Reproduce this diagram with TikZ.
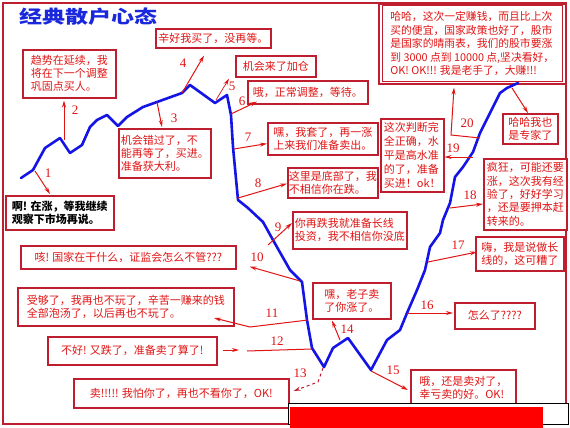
\documentclass[tikz,border=0pt]{standalone}
\usepackage{fontspec}
\newfontfamily\cjk{Noto Sans CJK SC}
\newfontfamily\numfont{Liberation Serif}
\usetikzlibrary{arrows.meta,calc}
\definecolor{boxred}{RGB}{190,30,45}
\definecolor{textred}{RGB}{225,20,20}
\definecolor{curveblue}{RGB}{20,20,230}
\definecolor{titleblue}{RGB}{25,40,220}
\tikzset{
  bx/.style={draw=boxred,line width=1.6pt,fill=white,text=textred,anchor=north west,
    inner sep=0pt,align=left,font=\cjk\fontsize{11}{13}\selectfont},
  curve/.style={draw=curveblue,line width=2.6pt,line join=round,line cap=round},
  conn/.style={draw=textred,line width=1pt,-{Stealth[length=7pt,width=4pt]}},
  num/.style={text=textred,font=\numfont\fontsize{13}{13}\selectfont,inner sep=0pt}
}
\begin{document}
\begin{tikzpicture}[x=1pt,y=-1pt]
\useasboundingbox (0,0) rectangle (570,428);
\fill[white] (0,0) rectangle (570,428);
\draw[boxred,line width=2.6pt] (3,3) rectangle (566,424);
% title
\node[text=titleblue,font=\cjk\bfseries\fontsize{23}{23}\selectfont,yscale=0.78,inner sep=0pt] (title) at (88,17) {经典散户心态};
% boxes
\node[bx,minimum width=115pt,minimum height=19pt] (b4) at (155,28) {辛好我买了，没再等。};
\node[bx,minimum width=93pt,minimum height=48pt] (b2) at (22,49) {趋势在延续，我\\将在下一个调整\\巩固点买人。};
\node[bx,minimum width=80pt,minimum height=21pt] (b5) at (235,55) {机会来了加仓};
\node[bx,minimum width=120pt,minimum height=23pt] (b6) at (247,80) {哦，正常调整，等待。};
\node[bx,minimum width=187pt,minimum height=80pt,font=\cjk\fontsize{10.8}{13.6}\selectfont] (bbig) at (378,3) {哈哈，这次一定赚钱，而且比上次\\买的便宜，国家政策也好了，股市\\是国家的晴雨表，我们的股市要涨\\到 3000 点到 10000 点,坚决看好，\\OK! OK!!! 我是老手了，大赚!!!};
\draw[boxred,line width=1pt] ($(bbig.north west)+(4,3)$) rectangle ($(bbig.south east)+(-4,-3)$);
\node[bx,minimum width=55pt,minimum height=30pt] (bexp) at (502,113) {哈哈我也\\是专家了};
\node[bx,minimum width=92pt,minimum height=49pt] (b3) at (118,128) {机会错过了，不\\能再等了，买进。\\准备获大利。};
\node[bx,minimum width=110pt,minimum height=32pt] (b7) at (267,122) {嘿，我套了，再一涨\\上来我们准备卖出。};
\node[bx,minimum width=63pt,minimum height=73pt,font=\cjk\fontsize{11}{13.8}\selectfont] (b19) at (380,118) {这次判断完\\全正确，水\\平是高水准\\的了，准备\\买进！ok！};
\node[bx,minimum width=90pt,minimum height=30pt] (b8) at (287,167) {这里是底部了，我\\不相信你在跌。};
\node[bx,minimum width=83pt,minimum height=71pt,font=\cjk\fontsize{11}{13.4}\selectfont] (b18) at (483,158) {疯狂，可能还要\\涨，这次我有经\\验了，好好学习\\，还是要押本赶\\转来的。};
\node[bx,minimum width=114pt,minimum height=37pt] (b9) at (292,211) {你再跌我就准备长线\\投资，我不相信你没底};
\node[bx,minimum width=108pt,minimum height=34pt,text=black,font=\cjk\bfseries\fontsize{11}{13}\selectfont] (b1) at (5,195) {啊! 在涨，等我继续\\观察下市场再说。};
\node[bx,minimum width=215pt,minimum height=23pt] (b10) at (20,245) {咳! 国家在干什么，证监会怎么不管???};
\node[bx,minimum width=88pt,minimum height=34pt] (b17) at (475,236) {嗨，我是说做长\\线的，这可糟了};
\node[bx,minimum width=216pt,minimum height=38pt] (b11) at (17,287) {受够了，我再也不玩了，辛苦一赚来的钱\\全部泡汤了，以后再也不玩了。};
\node[bx,minimum width=78pt,minimum height=36pt] (b14) at (312,282) {嘿，老子卖\\了你涨了。};
\node[bx,minimum width=80pt,minimum height=26pt] (b16) at (454,302) {怎么了????};
\node[bx,minimum width=169pt,minimum height=28pt] (b12) at (47,336) {不好! 又跌了，准备卖了算了!};
\node[bx,minimum width=215pt,minimum height=29pt] (b13) at (73,378) {卖!!!!! 我怕你了，再也不看你了，OK!};
\node[bx,minimum width=105pt,minimum height=36pt] (b15) at (410,369) {哦，还是卖对了，\\幸亏卖的好。OK!};
% bottom bar
\draw[black,line width=0.8pt,fill=white] (288,403) rectangle (568,424);
\fill[red] (290,407) rectangle (543,428);
% price curve
\draw[curve] (21,178) -- (33,170) -- (45,148) -- (60,138) -- (70,153) -- (82,145) -- (90,127)
  -- (97,120) -- (107,115) -- (118,126) -- (127,117) -- (143,107) -- (157,102) -- (182,93)
  -- (190,85) -- (215,103) -- (227,95) -- (231,115) -- (233,147) -- (238,200) -- (248,208)
  -- (263,222) -- (273,240) -- (290,270) -- (302,282) -- (307,320) -- (312,348) -- (324,367)
  -- (333,348) -- (348,338) -- (371,370) -- (387,340) -- (400,330) -- (407,313) -- (417,290)
  -- (425,270) -- (430,247) -- (440,233) -- (443,220) -- (450,203) -- (455,177) -- (463,167)
  -- (473,152) -- (480,133) -- (500,93) -- (507,88) -- (518,83);
% connector start points on the curve
\coordinate (p1) at (35,171);
\coordinate (p2) at (64,140);
\coordinate (p3) at (157,102);
\coordinate (p4) at (182,93);
\coordinate (p5) at (216,100);
\coordinate (p6) at (231,114);
\coordinate (p7) at (234,149);
\coordinate (p8) at (238,198);
\coordinate (p9) at (268,245);
\coordinate (p10) at (300,281);
\coordinate (p11) at (308,320);
\coordinate (p12) at (312,349);
\coordinate (p13) at (323,368);
\coordinate (p14) at (340,340);
\coordinate (p15) at (371,371);
\coordinate (p16) at (407,313);
\coordinate (p17) at (428,262);
\coordinate (p18) at (450,208);
\coordinate (p19) at (473,157);
\coordinate (p20) at (480,138);
\coordinate (p21) at (512,88);
% connector bends / free ends
\coordinate (k11) at (250,327);
\coordinate (e11) at (214,318);
\coordinate (e12) at (247,351);
\coordinate (s12) at (223,350);
\coordinate (t12) at (239,350);
\coordinate (k13) at (318,382);
\coordinate (k20) at (451,135);
% connectors
\draw[conn] (p1) -- ($(b1.north west)+(45,-1)$);
\draw[conn] (p2) -- ($(b2.south west)+(42,2)$);
\draw[conn] (p3) -- ($(b3.north west)+(44,-1)$);
\draw[conn] (p4) -- ($(b4.south west)+(49,7)$);
\draw[conn,line width=0.7pt] (p5) -- ($(b5.south west)+(-6,1)$);
\draw[conn] (p6) -- ($(b6.south west)+(10,-3)$);
\draw[conn] (p7) -- ($(b7.south west)+(0,-12)$);
\draw[conn] (p8) -- ($(b8.south west)+(0,-15)$);
\draw[conn] (p9) -- ($(b9.north west)+(0,12)$);
\draw[conn] (p10) -- ($(b10.south east)+(13,-3)$);
\draw[conn] (p11) -- (k11) -- (e11);
\draw[textred,line width=1pt] (p12) -- (e12);
\draw[conn] (s12) -- (t12);
\draw[conn,dashed,draw=boxred] (p13) -- (k13) -- ($(b13.north east)+(4,13)$);
\draw[conn] (p14) -- ($(b14.south west)+(20,1)$);
\draw[conn] (p15) -- ($(b15.north west)+(-2,21)$);
\draw[conn] (p16) -- ($(b16.north west)+(-1,11)$);
\draw[conn] (p17) -- ($(b17.north west)+(2,16)$);
\draw[conn] (p18) -- ($(b18.north west)+(0,46)$);
\draw[conn] (p19) -- ($(b19.north east)+(0,39)$);
\draw[conn] (p20) -- (k20) -- ($(bbig.south west)+(76,3)$);
\draw[conn] (p21) -- ($(bexp.north west)+(26,0)$);
% numbers
\node[num] (n1) at (48,173) {1};
\node[num] (n2) at (75,110) {2};
\node[num] (n3) at (174,118) {3};
\node[num] (n4) at (183,63) {4};
\node[num] (n5) at (232,86) {5};
\node[num] (n6) at (242,101) {6};
\node[num] (n7) at (248,137) {7};
\node[num] (n8) at (258,183) {8};
\node[num] (n9) at (278,227) {9};
\node[num] (n10) at (257,257) {10};
\node[num] (n11) at (272,313) {11};
\node[num] (n12) at (277,341) {12};
\node[num] (n13) at (300,373) {13};
\node[num] (n14) at (347,329) {14};
\node[num] (n15) at (393,370) {15};
\node[num] (n16) at (427,305) {16};
\node[num] (n17) at (458,245) {17};
\node[num] (n18) at (470,195) {18};
\node[num] (n19) at (453,148) {19};
\node[num] (n20) at (467,123) {20};
\end{tikzpicture}
\end{document}
